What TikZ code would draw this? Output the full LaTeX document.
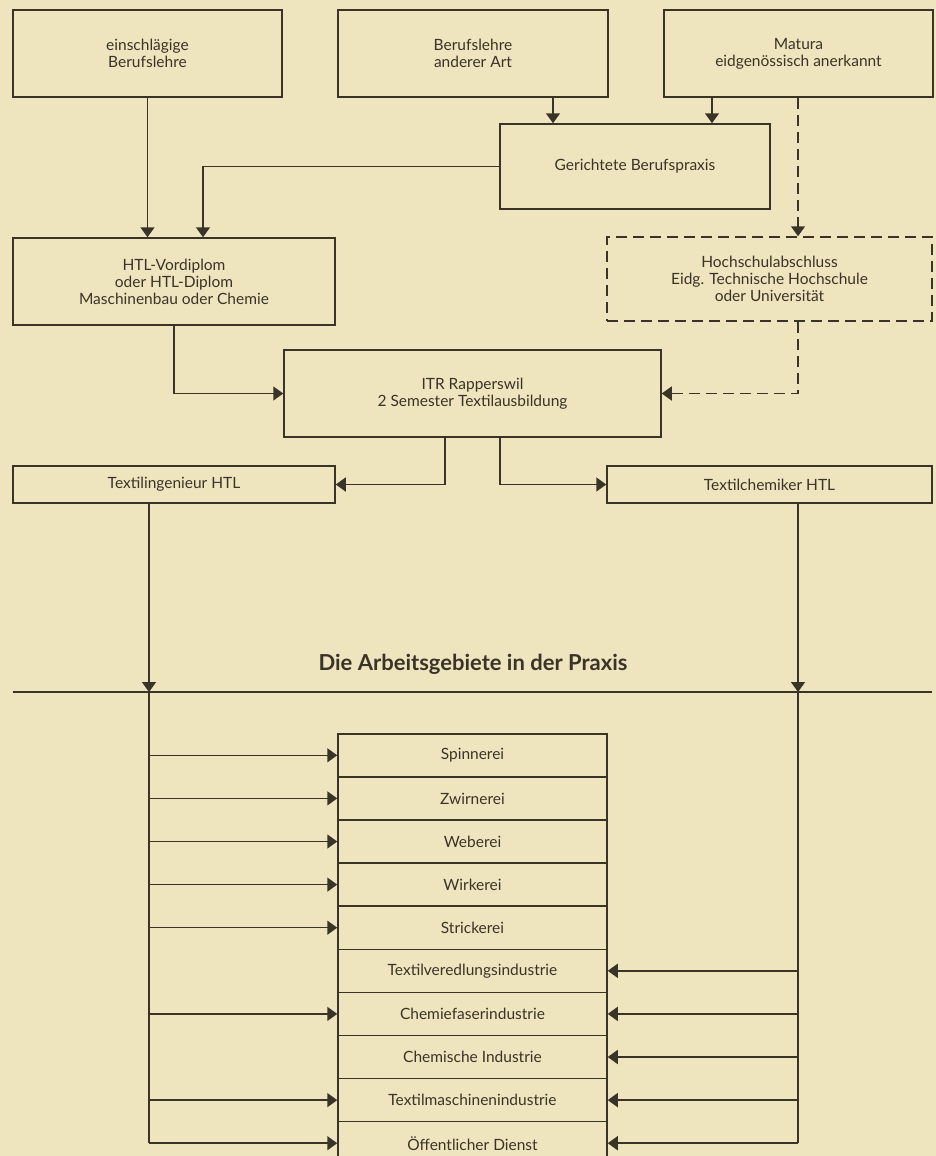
\documentclass[tikz,border=0pt]{standalone}
\usepackage{fontspec}
\setmainfont{Lato}
\usetikzlibrary{arrows.meta}
\definecolor{paper}{HTML}{EEE5BE}
\definecolor{ink}{HTML}{3A3327}

\begin{document}
\begin{tikzpicture}[x=1pt, y=-1pt,
    box/.style={draw=ink, line width=1.5pt, align=center, inner sep=0pt, text=ink,
        font=\fontsize{15.5}{17}\selectfont},
    bigbox/.style={box, minimum width=270pt, minimum height=87pt},
    dashedbox/.style={dash pattern=on 11pt off 6pt},
    row/.style={box, minimum width=269pt, minimum height=43.1pt, anchor=north},
    link/.style={draw=ink, line width=1.5pt},
    arr/.style={link, -{Triangle[length=10pt,width=14pt]}}]

    \useasboundingbox (0,0) rectangle (936,1156);
    \fill[paper] (0,0) rectangle (936,1156);

    % Zugang
    \node[bigbox, minimum width=269pt] (lehre) at (147.5,53.5) {einschlägige\\Berufslehre};
    \node[bigbox] (andere) at (473,53.5) {Berufslehre\\anderer Art};
    \node[bigbox, minimum width=269pt] (matura) at (798.5,53.5) {Matura\\eidgenössisch anerkannt};
    \node[bigbox, minimum height=85pt] (praxis) at (635,166.5) {Gerichtete Berufspraxis};
    \node[bigbox, minimum width=322pt] (htl) at (174,281.5) {HTL-Vordiplom\\oder HTL-Diplom\\Maschinenbau oder Chemie};
    \node[bigbox, dashedbox, minimum width=325pt, minimum height=84pt] (hochschule) at (769.5,279)
        {Hochschulabschluss\\Eidg. Technische Hochschule\\oder Universität};
    \node[bigbox, minimum width=377pt] (itr) at (472.5,393.5) {ITR Rapperswil\\2 Semester Textilausbildung};
    \node[box, minimum width=322pt, minimum height=37pt] (ingenieur) at (174,484.5) {Textilingenieur HTL};
    \node[box, minimum width=325pt, minimum height=37pt] (chemiker) at (769.5,484.5) {Textilchemiker HTL};

    \coordinate (links) at (149,0);
    \coordinate (rechts) at (798,0);
    \coordinate (k1) at (553,0);
    \coordinate (k2) at (712,0);
    \coordinate (k3) at (203,0);
    \coordinate (k4) at (445,0);
    \coordinate (k5) at (500,0);

    \draw[arr] (lehre.south) -- (lehre.south |- htl.north);
    \draw[arr] (andere.south -| k1) -- (praxis.north -| k1);
    \draw[arr] (matura.south -| k2) -- (praxis.north -| k2);
    \draw[arr] (praxis.west) -| (htl.north -| k3);
    \draw[arr, dashedbox] (matura.south -| rechts) -- (hochschule.north -| rechts);
    \draw[arr] (htl.south) |- (itr.west);
    \draw[arr, dashedbox] (hochschule.south -| rechts) |- (itr.east);
    \draw[arr] (itr.south -| k4) |- (ingenieur.east);
    \draw[arr] (itr.south -| k5) |- (chemiker.west);

    % Arbeitsgebiete
    \node[text=ink, font=\bfseries\fontsize{22}{24}\selectfont] (titel) at (473,664) {Die Arbeitsgebiete in der Praxis};
    \coordinate (busL) at (13,692);
    \coordinate (busR) at (932,692);
    \draw[link] (busL) -- (busR);

    \foreach \name [count=\i] in {Spinnerei, Zwirnerei, Weberei, Wirkerei, Strickerei,
        Textilveredlungsindustrie, Chemiefaserindustrie, Chemische Industrie,
        Textilmaschinenindustrie, Öffentlicher Dienst}
        \node[row] (r\i) at (472.5,{733+(\i-1)*43.1}) {\name};

    \draw[arr] (ingenieur.south -| links) -- (busL -| links);
    \draw[link] (busL -| links) -- (r10.west -| links);
    \draw[arr] (chemiker.south -| rechts) -- (busR -| rechts);
    \draw[link] (busR -| rechts) -- (r10.east -| rechts);

    \foreach \i in {1,2,3,4,5,7,9,10}
        \draw[arr] (r\i.west -| links) -- (r\i.west);
    \foreach \i in {6,...,10}
        \draw[arr] (r\i.east -| rechts) -- (r\i.east);
\end{tikzpicture}
\end{document}
